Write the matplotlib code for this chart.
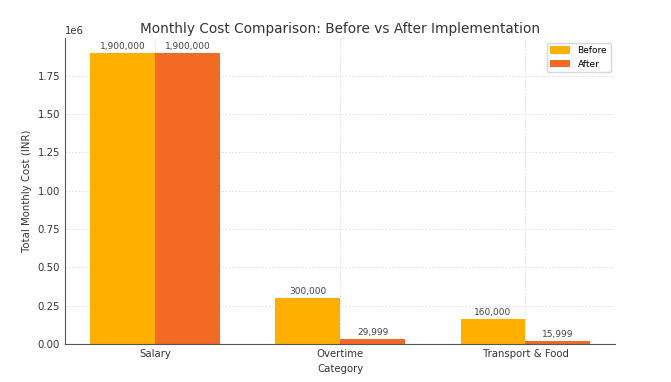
import numpy as np
import matplotlib.pyplot as plt

categories = ["Salary", "Overtime", "Transport & Food"]
before = [1900000, 300000, 160000]
after = [1900000, 29999, 15999]

BEFORE_COLOR = "#FFAF00"
AFTER_COLOR = "#F26A24"

fig, ax = plt.subplots(figsize=(6.71, 3.82), dpi=100)

x = np.arange(len(categories))
width = 0.35
bars_before = ax.bar(x - width / 2, before, width, label="Before", color=BEFORE_COLOR)
bars_after = ax.bar(x + width / 2, after, width, label="After", color=AFTER_COLOR)

# value labels on top of each bar
for bars in (bars_before, bars_after):
    for b in bars:
        ax.annotate(f"{int(b.get_height()):,}",
                    xy=(b.get_x() + b.get_width() / 2, b.get_height()),
                    xytext=(0, 1.5), textcoords="offset points",
                    ha="center", va="bottom", fontsize=6.5, color="#444444")

ax.set_title("Monthly Cost Comparison: Before vs After Implementation",
             fontsize=9.8, color="#333333", pad=4)
ax.set_xlabel("Category", fontsize=7.3, color="#333333")
ax.set_ylabel("Total Monthly Cost (INR)", fontsize=7.3, color="#333333")
ax.set_xticks(x)
ax.set_xticklabels(categories)
ax.tick_params(labelsize=7.3, colors="#333333", length=0)
ax.yaxis.get_offset_text().set_fontsize(7.3)

ax.set_axisbelow(True)
ax.grid(True, linestyle=(0, (2, 2)), linewidth=0.6, color="#dddddd")
ax.spines["top"].set_visible(False)
ax.spines["right"].set_visible(False)
ax.spines["left"].set_color("#555555")
ax.spines["bottom"].set_color("#555555")

ax.legend(fontsize=6.5, loc="upper right", handlelength=2.2, handleheight=0.9)

fig.subplots_adjust(left=0.097, right=0.917, top=0.90, bottom=0.10)
fig.savefig("out.png", dpi=100)
